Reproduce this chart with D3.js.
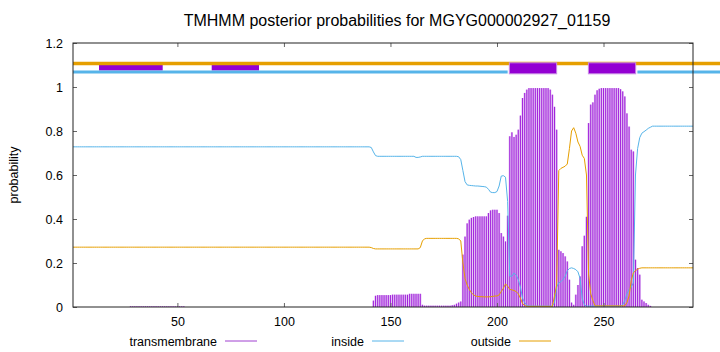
<!DOCTYPE html>
<html>
<head>
<meta charset="utf-8">
<script src="https://cdn.jsdelivr.net/npm/d3@7"></script>
<style>
  html, body { margin: 0; padding: 0; background: #fff; }
  svg { display: block; font-family: "Liberation Sans", Arial, sans-serif; }
</style>
</head>
<body>
<svg id="chart" width="720" height="352"></svg>
<script>
const title = "TMHMM posterior probabilities for MGYG000002927_01159";
const seqLength = 292;
const xTicks = [50, 100, 150, 200, 250];
const yTicks = [0, 0.2, 0.4, 0.6, 0.8, 1, 1.2];
const seriesNames = ["transmembrane", "inside", "outside"];
const seriesColors = ["#9400d3", "#56b4e9", "#e69f00"];

// posterior probability per residue (1..292)
const transmembrane = [
  0,0,0,0,0,0,0,0,0,0, 0,0,0,0,0,0,0,0,0,0, 0,0,0,0,0,0,0,0.003,0.003,0.003,
  0.003,0.003,0.003,0.003,0.003,0.003,0.003,0.003,0.003,0.003, 0.003,0.003,0.003,0.003,0.003,0.003,0.003,0.003,0.003,0.003, 0.003,0.003,0.003,0,0,0,0,0,0,0,
  0,0,0,0,0,0,0,0,0,0, 0,0,0,0,0,0,0,0,0,0, 0,0,0,0,0,0,0,0,0,0,
  0,0,0,0,0,0,0,0,0,0, 0,0,0,0,0,0,0,0,0,0, 0,0,0,0,0,0,0,0,0,0,
  0,0,0,0,0,0,0,0,0,0, 0,0,0,0,0,0,0,0,0,0, 0,0.029,0.051,0.054,0.054,0.054,0.054,0.054,0.054,0.054,
  0.056,0.056,0.056,0.056,0.056,0.056,0.056,0.056,0.06,0.06, 0.06,0.06,0.06,0.06,0.01,0.006,0.006,0.006,0.006,0.006, 0.006,0.006,0.006,0.006,0.006,0.006,0.006,0.006,0.008,0.01,
  0.015,0.02,0.025,0.238,0.32,0.38,0.397,0.405,0.409,0.412, 0.412,0.412,0.412,0.412,0.412,0.427,0.439,0.442,0.442,0.442, 0.427,0.336,0.32,0.298,0.415,0.776,0.794,0.773,0.783,0.806,
  0.87,0.95,0.973,0.988,0.995,0.995,0.995,0.995,0.995,0.995, 0.995,0.995,0.995,0.995,0.988,0.965,0.91,0.806,0.26,0.253, 0.245,0.23,0.207,0.124,0.02,0.01,0.056,0.1,0.139,0.276,
  0.324,0.41,0.836,0.92,0.93,0.965,0.985,0.992,0.995,0.995, 0.995,0.995,0.995,0.995,0.995,0.995,0.995,0.99,0.98,0.957, 0.88,0.82,0.715,0.707,0.215,0.177,0.147,0.033,0.025,0.018,
  0.01,0.005,0,0,0,0,0,0,0,0, 0,0,0,0,0,0,0,0,0,0, 0,0
];

const inside = [
  0.728,0.728,0.728,0.728,0.728,0.728,0.728,0.728,0.728,0.728,
  0.728,0.728,0.728,0.728,0.728,0.728,0.728,0.728,0.728,0.728,
  0.728,0.728,0.728,0.728,0.728,0.728,0.728,0.728,0.728,0.728,
  0.728,0.728,0.728,0.728,0.728,0.728,0.728,0.728,0.728,0.728,
  0.728,0.728,0.728,0.728,0.728,0.728,0.728,0.728,0.728,0.728,
  0.728,0.728,0.728,0.728,0.728,0.728,0.728,0.728,0.728,0.728,
  0.728,0.728,0.728,0.728,0.728,0.728,0.728,0.728,0.728,0.728,
  0.728,0.728,0.728,0.728,0.728,0.728,0.728,0.728,0.728,0.728,
  0.728,0.728,0.728,0.728,0.728,0.728,0.728,0.728,0.728,0.728,
  0.728,0.728,0.728,0.728,0.728,0.728,0.728,0.728,0.728,0.728,
  0.728,0.728,0.728,0.728,0.728,0.728,0.728,0.728,0.728,0.728,
  0.728,0.728,0.728,0.728,0.728,0.728,0.728,0.728,0.728,0.728,
  0.728,0.728,0.728,0.728,0.728,0.728,0.728,0.728,0.728,0.728,
  0.728,0.728,0.728,0.728,0.728,0.728,0.728,0.728,0.728,0.728,
  0.725,0.705,0.688,0.685,0.685,0.685,0.685,0.685,0.685,0.685, 0.685,0.685,0.685,0.685,0.685,0.685,0.685,0.685,0.685,0.685, 0.685,0.68,0.68,0.682,0.685,0.685,0.685,0.685,0.685,0.685,
  0.685,0.685,0.685,0.685,0.685,0.685,0.685,0.685,0.685,0.685, 0.685,0.683,0.67,0.62,0.57,0.555,0.553,0.552,0.551,0.55, 0.55,0.549,0.548,0.547,0.545,0.535,0.522,0.52,0.52,0.525,
  0.55,0.595,0.597,0.59,0.48,0.14,0.14,0.155,0.145,0.125, 0.09,0.04,0.02,0.008,0.004,0.004,0.004,0.004,0.004,0.004, 0.004,0.004,0.004,0.004,0.004,0.004,0.02,0.09,0.11,0.115,
  0.125,0.14,0.165,0.175,0.178,0.175,0.17,0.16,0.13,0.04, 0.01,0.004,0.004,0.004,0.004,0.004,0.004,0.004,0.004,0.004, 0.004,0.004,0.004,0.004,0.004,0.004,0.004,0.004,0.01,0.03,
  0.06,0.08,0.09,0.11,0.6,0.72,0.77,0.79,0.797,0.804, 0.812,0.817,0.822,0.822,0.822,0.822,0.822,0.822,0.822,0.822, 0.822,0.822,0.822,0.822,0.822,0.822,0.822,0.822,0.822,0.822, 0.822,0.822
];

const outside = [
  0.272,0.272,0.272,0.272,0.272,0.272,0.272,0.272,0.272,0.272,
  0.272,0.272,0.272,0.272,0.272,0.272,0.272,0.272,0.272,0.272,
  0.272,0.272,0.272,0.272,0.272,0.272,0.272,0.272,0.272,0.272,
  0.272,0.272,0.272,0.272,0.272,0.272,0.272,0.272,0.272,0.272,
  0.272,0.272,0.272,0.272,0.272,0.272,0.272,0.272,0.272,0.272,
  0.272,0.272,0.272,0.272,0.272,0.272,0.272,0.272,0.272,0.272,
  0.272,0.272,0.272,0.272,0.272,0.272,0.272,0.272,0.272,0.272,
  0.272,0.272,0.272,0.272,0.272,0.272,0.272,0.272,0.272,0.272,
  0.272,0.272,0.272,0.272,0.272,0.272,0.272,0.272,0.272,0.272,
  0.272,0.272,0.272,0.272,0.272,0.272,0.272,0.272,0.272,0.272,
  0.272,0.272,0.272,0.272,0.272,0.272,0.272,0.272,0.272,0.272,
  0.272,0.272,0.272,0.272,0.272,0.272,0.272,0.272,0.272,0.272,
  0.272,0.272,0.272,0.272,0.272,0.272,0.272,0.272,0.272,0.272,
  0.272,0.272,0.272,0.272,0.272,0.272,0.272,0.272,0.272,0.272,
  0.27,0.266,0.264,0.264,0.264,0.264,0.264,0.264,0.264,0.264, 0.264,0.264,0.264,0.264,0.264,0.264,0.264,0.264,0.264,0.264, 0.264,0.264,0.264,0.27,0.3,0.31,0.312,0.312,0.312,0.312,
  0.312,0.312,0.312,0.312,0.312,0.312,0.312,0.312,0.312,0.312, 0.312,0.31,0.3,0.2,0.13,0.1,0.08,0.065,0.055,0.05, 0.048,0.047,0.047,0.046,0.046,0.046,0.047,0.048,0.05,0.05,
  0.055,0.07,0.085,0.105,0.095,0.08,0.078,0.075,0.07,0.06, 0.04,0.015,0.007,0.003,0.003,0.003,0.003,0.003,0.003,0.003, 0.003,0.003,0.003,0.003,0.003,0.003,0.05,0.1,0.62,0.63,
  0.635,0.64,0.65,0.72,0.8,0.815,0.79,0.75,0.73,0.69, 0.675,0.6,0.15,0.06,0.03,0.005,0.005,0.005,0.005,0.005, 0.005,0.005,0.005,0.005,0.005,0.005,0.005,0.005,0.005,0.005,
  0.02,0.05,0.12,0.155,0.165,0.172,0.176,0.178,0.178,0.178, 0.178,0.178,0.178,0.178,0.178,0.178,0.178,0.178,0.178,0.178, 0.178,0.178,0.178,0.178,0.178,0.178,0.178,0.178,0.178,0.178, 0.178,0.178
];

// predicted topology strip at the top, in residue coordinates
const topOutside = [[1, 305]];
const topInside = [[1, 205.0], [265.9, 305]];
const topTm = [[205.8, 228.0], [242.9, 265.1]];
const topTmSmall = [[13.2, 43.1], [66.1, 88.3]];

const svg = d3.select("#chart");
const W = 720, H = 352;
const plot = { left: 73, right: 693, top: 43, bottom: 307 };

const x = d3.scaleLinear().domain([1, seqLength]).range([plot.left, plot.right]);
const y = d3.scaleLinear().domain([0, 1.2]).range([plot.bottom, plot.top]);
const step = x(2) - x(1);

svg.append("rect").attr("width", W).attr("height", H).attr("fill", "#fff");

// title
svg.append("text")
    .attr("x", 397).attr("y", 26)
    .attr("text-anchor", "middle")
    .attr("font-size", "16px")
    .text(title);

// y label
svg.append("text")
    .attr("transform", `translate(18,${(plot.top + plot.bottom) / 2}) rotate(-90)`)
    .attr("text-anchor", "middle")
    .attr("font-size", "12.5px")
    .text("probability");

// transmembrane impulses (light fill between the antialiased impulse lines)
const tmData = transmembrane.map((v, i) => ({ pos: i + 1, v })).filter(d => d.v > 0);
const tmG = svg.append("g");
tmG.selectAll("rect")
    .data(tmData)
    .enter()
    .append("rect")
    .attr("x", d => x(d.pos) - step / 2)
    .attr("width", step)
    .attr("y", d => y(d.v))
    .attr("height", d => y(0) - y(d.v))
    .attr("fill", "#dcb4f0");
tmG.selectAll("line")
    .data(tmData)
    .enter()
    .append("line")
    .attr("x1", d => x(d.pos)).attr("x2", d => x(d.pos))
    .attr("y1", y(0)).attr("y2", d => y(d.v))
    .attr("stroke", "#a222dc")
    .attr("stroke-width", 1);

const line = d3.line()
    .x((d, i) => x(i + 1))
    .y(d => y(d));

svg.append("path")
    .datum(inside)
    .attr("fill", "none")
    .attr("stroke", seriesColors[1])
    .attr("stroke-width", 1)
    .attr("d", line);

svg.append("path")
    .datum(outside)
    .attr("fill", "none")
    .attr("stroke", seriesColors[2])
    .attr("stroke-width", 1)
    .attr("d", line);

// topology strip
const strip = svg.append("g");
strip.selectAll(".tmsmall")
    .data(topTmSmall)
    .enter()
    .append("rect")
    .attr("x", d => x(d[0])).attr("width", d => x(d[1]) - x(d[0]))
    .attr("y", y(1.1)).attr("height", y(1.075) - y(1.1))
    .attr("fill", seriesColors[0]);

strip.selectAll(".out")
    .data(topOutside)
    .enter()
    .append("line")
    .attr("x1", d => x(d[0])).attr("x2", d => x(d[1]))
    .attr("y1", y(1.107)).attr("y2", y(1.107))
    .attr("stroke", seriesColors[2])
    .attr("stroke-width", 3.4);

strip.selectAll(".in")
    .data(topInside)
    .enter()
    .append("line")
    .attr("x1", d => x(d[0])).attr("x2", d => x(d[1]))
    .attr("y1", y(1.0682)).attr("y2", y(1.0682))
    .attr("stroke", seriesColors[1])
    .attr("stroke-width", 3);

strip.selectAll(".tm")
    .data(topTm)
    .enter()
    .append("rect")
    .attr("x", d => x(d[0])).attr("width", d => x(d[1]) - x(d[0]))
    .attr("y", y(1.11)).attr("height", y(1.06) - y(1.11))
    .attr("fill", seriesColors[0])
    .attr("stroke", "#c98be6")
    .attr("stroke-width", 1);

// axes with inward ticks (mirrored on right and top)
const tickLen = 4;
const fmt = d => d3.format("")(+d.toFixed(1));

const gy = svg.append("g")
    .attr("transform", `translate(${plot.left},0)`)
    .call(d3.axisLeft(y).tickValues(yTicks).tickSizeInner(-tickLen).tickSizeOuter(0).tickPadding(10).tickFormat(fmt));
const gyr = svg.append("g")
    .attr("transform", `translate(${plot.right},0)`)
    .call(d3.axisRight(y).tickValues(yTicks).tickSizeInner(-tickLen).tickSizeOuter(0).tickFormat(""));
const gx = svg.append("g")
    .attr("transform", `translate(0,${plot.bottom})`)
    .call(d3.axisBottom(x).tickValues(xTicks).tickSizeInner(-tickLen).tickSizeOuter(0).tickPadding(10));
const gxt = svg.append("g")
    .attr("transform", `translate(0,${plot.top})`)
    .call(d3.axisTop(x).tickValues(xTicks).tickSizeInner(-tickLen).tickSizeOuter(0).tickFormat(""));

[gy, gyr, gx, gxt].forEach(g => {
    g.select(".domain").remove();
    g.selectAll(".tick line").attr("stroke", "#666");
    g.selectAll("text").attr("font-size", "12.5px").attr("fill", "#000")
        .attr("font-family", "Liberation Sans, Arial, sans-serif");
});

svg.append("rect")
    .attr("x", plot.left).attr("y", plot.top)
    .attr("width", plot.right - plot.left).attr("height", plot.bottom - plot.top)
    .attr("fill", "none").attr("stroke", "#222").attr("stroke-width", 1);

// legend
const legend = svg.append("g");
seriesNames.forEach((name, i) => {
    const lx = 217 + i * 147;
    legend.append("text")
        .attr("x", lx).attr("y", 345.5)
        .attr("text-anchor", "end")
        .attr("font-size", "12.5px")
        .text(name);
    legend.append("line")
        .attr("x1", lx + 8).attr("x2", lx + 40)
        .attr("y1", 341).attr("y2", 341)
        .attr("stroke", i === 0 ? "#a040d0" : seriesColors[i])
        .attr("stroke-width", 1);
});
</script>
</body>
</html>
